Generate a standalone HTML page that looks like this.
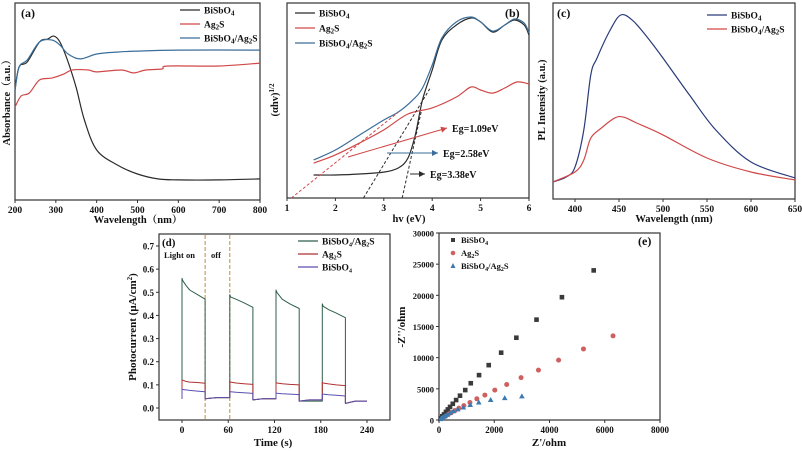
<!DOCTYPE html>
<html><head><meta charset="utf-8"><style>
html,body{margin:0;padding:0;background:#fff;}
svg{display:block;font-family:"Liberation Serif","Noto Serif CJK SC",serif;font-weight:bold;}
</style></head><body>
<svg id="fig" width="802" height="452" viewBox="0 0 802 452" xmlns="http://www.w3.org/2000/svg"></svg>
<script>
// ---- Panel (a) data ----
const aWlBi=[200,210,230,260,280,295,310,330,350,370,400,450,500,550,600,700,800];
const aAbsBi=[0.558,0.675,0.701,0.802,0.817,0.832,0.802,0.701,0.569,0.406,0.254,0.178,0.132,0.107,0.102,0.102,0.107];
const aWlComp=[200,210,230,260,290,310,330,360,400,450,500,600,800];
const aAbsComp=[0.558,0.675,0.711,0.802,0.812,0.787,0.741,0.716,0.741,0.751,0.756,0.761,0.761];
const aWlAg=[200,215,235,260,290,320,340,380,400,460,490,520,560,575,700,800];
const aAbsAg=[0.472,0.528,0.543,0.609,0.619,0.640,0.660,0.660,0.650,0.660,0.645,0.660,0.665,0.680,0.680,0.695];
const aTicks=[200,300,400,500,600,700,800];
// ---- Panel (b) data ----
const bEBi=[1.55,2.0,2.5,3.0,3.3,3.5,3.65,3.8,4.0,4.2,4.5,4.8,5.0,5.25,5.5,5.7,5.9,6.0];
const bVBi=[0.118,0.118,0.123,0.133,0.154,0.205,0.323,0.503,0.656,0.810,0.887,0.923,0.903,0.851,0.887,0.913,0.887,0.836];
const bEComp=[1.55,2.0,2.5,3.0,3.3,3.6,3.8,4.0,4.2,4.5,4.8,5.0,5.25,5.5,5.7,5.9,6.0];
const bVComp=[0.195,0.246,0.323,0.400,0.441,0.503,0.564,0.682,0.821,0.903,0.928,0.903,0.856,0.887,0.918,0.897,0.846];
const bEAg=[1.55,2.0,2.5,3.0,3.5,4.0,4.5,4.8,5.0,5.25,5.5,5.75,6.0];
const bVAg=[0.179,0.221,0.282,0.349,0.431,0.462,0.518,0.569,0.554,0.538,0.564,0.595,0.585];
const bGaps=[1.09,2.58,3.38];
const bGapLabels=["Eg=1.09eV","Eg=2.58eV","Eg=3.38eV"];
const bTicks=[1,2,3,4,5,6];
// ---- Panel (c) data ----
const cWlBi=[375,390,400,410,418,425,440,452,465,480,500,530,560,600,650];
const cIBi=[0.087,0.112,0.163,0.352,0.633,0.719,0.862,0.939,0.913,0.837,0.719,0.531,0.352,0.189,0.107];
const cWlComp=[375,400,410,418,430,445,455,470,500,550,600,650];
const cIComp=[0.087,0.138,0.199,0.311,0.362,0.413,0.418,0.388,0.327,0.209,0.138,0.097];
const cTicks=[400,450,500,550,600,650];
// ---- Panel (d) data ----
const dTime=[0,0,1,5,10,20,30,30,45,60,62,62,63,70,80,92,92,105,120,122,122,123,130,140,152,152,165,180,182,182,183,190,200,212,212,225,240];
const dComp=[0.04,0.56,0.55,0.53,0.51,0.49,0.47,0.04,0.045,0.045,0.045,0.49,0.48,0.47,0.455,0.435,0.035,0.04,0.04,0.04,0.51,0.50,0.47,0.45,0.43,0.03,0.03,0.03,0.03,0.45,0.44,0.425,0.41,0.39,0.02,0.03,0.03];
const dAg=[0.04,0.12,0.12,0.115,0.112,0.11,0.107,0.04,0.045,0.045,0.045,0.115,0.112,0.108,0.105,0.102,0.035,0.04,0.04,0.04,0.11,0.108,0.105,0.102,0.10,0.03,0.035,0.035,0.035,0.11,0.108,0.104,0.10,0.097,0.02,0.03,0.03];
const dBi=[0.04,0.08,0.08,0.078,0.076,0.073,0.07,0.04,0.045,0.045,0.045,0.07,0.07,0.068,0.066,0.063,0.035,0.04,0.04,0.04,0.065,0.064,0.062,0.06,0.058,0.03,0.035,0.035,0.035,0.06,0.06,0.057,0.055,0.052,0.02,0.03,0.03];
const dXTicks=[0,60,120,180,240];
const dYTicks=[0,0.1,0.2,0.3,0.4,0.5,0.6,0.7];
// ---- Panel (e) data ----
const eBiRe=[5600,4450,3530,2800,2250,1800,1450,1150,950,760,620,500,400,320,250,180,120,60];
const eBiIm=[24000,19700,16100,13200,10800,8800,7200,5900,4800,3900,3200,2600,2100,1700,1300,900,600,300];
const eAgRe=[6300,5230,4330,3600,2970,2450,2020,1660,1370,1120,900,720,580,450,340,240,150];
const eAgIm=[13500,11400,9600,8000,6800,5700,4800,4000,3400,2800,2300,1900,1500,1200,900,600,350];
const eCoRe=[3000,2380,1870,1440,1130,880,680,520,400,300,210,130,60];
const eCoIm=[3800,3500,3200,2800,2400,2000,1700,1400,1100,850,600,350,150];
const eXTicks=[0,2000,4000,6000,8000];
const eYTicks=[0,5000,10000,15000,20000,25000,30000];

const svg=document.getElementById('fig');
const NS='http://www.w3.org/2000/svg';
function mk(tag,attrs,parent){const e=document.createElementNS(NS,tag);for(const k in attrs)e.setAttribute(k,attrs[k]);(parent||svg).appendChild(e);return e;}
function lin(d0,d1,r0,r1){return v=>r0+(v-d0)*(r1-r0)/(d1-d0);}
function txt(x,y,s,size,anchor,parent,name,rot){const t=mk('text',{x:x,y:y,'font-size':size,'text-anchor':anchor||'middle',fill:'#111'},parent);t.innerHTML=s;
 
 
 if(rot)t.setAttribute('transform','rotate(-90 '+x+' '+y+')');return t;}
function line(xs,ys,sx,sy,color,parent,name,w,sharp){
 const P=xs.map((x,i)=>[sx(x),sy(ys[i])]);let d;
 if(sharp){d=P.map((p,i)=>(i?'L':'M')+p[0].toFixed(1)+' '+p[1].toFixed(1)).join(' ');}
 else{d='M'+P[0][0].toFixed(1)+' '+P[0][1].toFixed(1);
  for(let i=0;i<P.length-1;i++){const p0=P[Math.max(0,i-1)],p1=P[i],p2=P[i+1],p3=P[Math.min(P.length-1,i+2)];
   const c1=[p1[0]+(p2[0]-p0[0])/6,p1[1]+(p2[1]-p0[1])/6],c2=[p2[0]-(p3[0]-p1[0])/6,p2[1]-(p3[1]-p1[1])/6];
   d+=' C'+c1[0].toFixed(1)+' '+c1[1].toFixed(1)+' '+c2[0].toFixed(1)+' '+c2[1].toFixed(1)+' '+p2[0].toFixed(1)+' '+p2[1].toFixed(1);}}
 const p=mk('path',{d:d,fill:'none',stroke:color,'stroke-width':w||1.2,'stroke-linejoin':'round'},parent);
 
 return p;}
function frame(x0,y0,x1,y1,parent,name){const r=mk('rect',{x:x0,y:y0,width:x1-x0,height:y1-y0,fill:'none',stroke:'#333','stroke-width':1.2},parent);
 
 }
function group(name){const g=mk('g',{});return g;}
function xticks(ticks,sx,yb,parent,fmt,size){ticks.forEach(t=>{mk('line',{x1:sx(t),x2:sx(t),y1:yb,y2:yb+3,stroke:'#333'},parent);
 txt(sx(t),yb+13,fmt?fmt(t):t,size||9.5,'middle',parent,'x-tick-label');});}
function yticks(ticks,sy,xl,parent,fmt,size){ticks.forEach(t=>{mk('line',{x1:xl-3,x2:xl,y1:sy(t),y2:sy(t),stroke:'#333'},parent);
 txt(xl-5,sy(t)+3.5,fmt?fmt(t):t,size||9,'end',parent,'y-tick-label');});}
function legLine(x,y,color,label,parent){mk('line',{x1:x,x2:x+20,y1:y,y2:y,stroke:color,'stroke-width':1.3},parent);
 txt(x+24,y+3.5,label,9.5,'start',parent,'legend-entry');}

const BLK='#2b2b2b',RED='#d04848',BLU='#3a6e9a';
// Panel a
(function(){const g=group('panel-a');const sx=lin(200,800,15,260),sy=lin(0,1,200,3);
 frame(15,3,260,200,g,'plot-frame-a');
 line(aWlBi,aAbsBi,sx,sy,BLK,g,'series-bisbo4');
 line(aWlAg,aAbsAg,sx,sy,RED,g,'series-ag2s');
 line(aWlComp,aAbsComp,sx,sy,BLU,g,'series-composite');
 xticks(aTicks,sx,200,g);
 txt(21,17,'(a)',12,'start',g,'panel-label-a');
 legLine(180,10,BLK,'BiSbO<tspan font-size="7" dy="2">4</tspan>',g);
 legLine(180,24,RED,'Ag<tspan font-size="7" dy="2">2</tspan><tspan dy="-2">S</tspan>',g);
 legLine(180,38,BLU,'BiSbO<tspan font-size="7" dy="2">4</tspan><tspan dy="-2">/Ag</tspan><tspan font-size="7" dy="2">2</tspan><tspan dy="-2">S</tspan>',g);
 txt(138,223,'Wavelength（nm）',10.5,'middle',g,'x-axis-title-a');
 txt(10,100,'Absorbance（a.u.）',10.5,'middle',g,'y-axis-title-a',true);
})();
// Panel b
(function(){const g=group('panel-b');const sx=lin(1,6,287,529),sy=lin(0,1,198,3);
 frame(287,3,529,198,g,'plot-frame-b');
 line(bEBi,bVBi,sx,sy,BLK,g,'series-bisbo4');
 line(bEAg,bVAg,sx,sy,RED,g,'series-ag2s');
 line(bEComp,bVComp,sx,sy,BLU,g,'series-composite');
 const dl=[[bGaps[0],3.3,0.44,RED],[bGaps[1],3.95,0.56,BLK],[bGaps[2],3.78,0.45,BLK]];
 dl.forEach(d=>{const p=mk('line',{x1:sx(d[0]),y1:sy(0),x2:sx(d[1]),y2:sy(d[2]),stroke:d[3],'stroke-width':1,'stroke-dasharray':'3,2'},g);
  
  });
 const ar=[[348,157,447,128,RED],[387,153,438,153,BLU],[410,174,425,174,BLK]];
 ar.forEach((a,i)=>{mk('line',{x1:a[0],y1:a[1],x2:a[2],y2:a[3],stroke:a[4],'stroke-width':1},g);
  const ang=Math.atan2(a[3]-a[1],a[2]-a[0]);const hx=a[2],hy=a[3];
  mk('polygon',{points:hx+','+hy+' '+(hx-6*Math.cos(ang)+3*Math.sin(ang))+','+(hy-6*Math.sin(ang)-3*Math.cos(ang))+' '+(hx-6*Math.cos(ang)-3*Math.sin(ang))+','+(hy-6*Math.sin(ang)+3*Math.cos(ang)),fill:a[4]},g);
  txt(a[2]+5,a[3]+4,bGapLabels[i],10,'start',g,'bandgap-label');});
 xticks(bTicks,sx,198,g);
 txt(505,17,'(b)',12,'start',g,'panel-label-b');
 legLine(295,13,BLK,'BiSbO<tspan font-size="7" dy="2">4</tspan>',g);
 legLine(295,28,RED,'Ag<tspan font-size="7" dy="2">2</tspan><tspan dy="-2">S</tspan>',g);
 legLine(295,43,BLU,'BiSbO<tspan font-size="7" dy="2">4</tspan><tspan dy="-2">/Ag</tspan><tspan font-size="7" dy="2">2</tspan><tspan dy="-2">S</tspan>',g);
 txt(409,222,'hv (eV)',10.5,'middle',g,'x-axis-title-b');
 txt(278,100,'(αhv)<tspan font-size="7" dy="-4">1/2</tspan>',10.5,'middle',g,'y-axis-title-b',true);
})();
// Panel c
(function(){const g=group('panel-c');const sx=lin(375,650,553,795),sy=lin(0,1,199,3);
 frame(553,3,795,199,g,'plot-frame-c');
 line(cWlBi,cIBi,sx,sy,'#2a3a7a',g,'series-bisbo4');
 line(cWlComp,cIComp,sx,sy,RED,g,'series-composite');
 xticks(cTicks,sx,199,g);
 txt(557,17,'(c)',12,'start',g,'panel-label-c');
 legLine(707,15,'#2a3a7a','BiSbO<tspan font-size="7" dy="2">4</tspan>',g);
 legLine(707,29,RED,'BiSbO<tspan font-size="7" dy="2">4</tspan><tspan dy="-2">/Ag</tspan><tspan font-size="7" dy="2">2</tspan><tspan dy="-2">S</tspan>',g);
 txt(674,222,'Wavelength (nm)',10.5,'middle',g,'x-axis-title-c');
 txt(545,100,'PL Intensity (a.u.)',10.5,'middle',g,'y-axis-title-c',true);
})();
// Panel d
(function(){const g=group('panel-d');const sx=lin(0,240,182,367),sy=lin(0,0.7,408,246);
 frame(159,234,390,420,g,'plot-frame-d');
 [30,62].forEach(t=>{mk('line',{x1:sx(t),x2:sx(t),y1:235,y2:419,stroke:'#c98a3a','stroke-width':1,'stroke-dasharray':'4,2'},g);});
 line(dTime,dComp,sx,sy,'#2e5e4a',g,'series-composite',1,true);
 line(dTime,dAg,sx,sy,'#b03030',g,'series-ag2s',1,true);
 line(dTime,dBi,sx,sy,'#5a4fb0',g,'series-bisbo4',1,true);
 xticks(dXTicks,sx,420,g);
 yticks(dYTicks,sy,159,g,v=>v.toFixed(1));
 txt(162,246,'(d)',11,'start',g,'panel-label-d');
 txt(164,258,'Light on',8.5,'start',g,'annotation-light-on');
 txt(211,258,'off',8.5,'start',g,'annotation-off');
 legLine(298,241,'#2e5e4a','BiSbO<tspan font-size="6" dy="2">4</tspan><tspan dy="-2">/Ag</tspan><tspan font-size="6" dy="2">2</tspan><tspan dy="-2">S</tspan>',g);
 legLine(298,254,'#b03030','Ag<tspan font-size="6" dy="2">2</tspan><tspan dy="-2">S</tspan>',g);
 legLine(298,267,'#5a4fb0','BiSbO<tspan font-size="6" dy="2">4</tspan>',g);
 txt(273,446,'Time (s)',11,'middle',g,'x-axis-title-d');
 txt(136,327,'Photocurrent (μA/cm<tspan font-size="7" dy="-4">2</tspan><tspan dy="4">)</tspan>',11,'middle',g,'y-axis-title-d',true);
})();
// Panel e
(function(){const g=group('panel-e');const sx=lin(0,8000,439,660),sy=lin(0,30000,420,233);
 frame(439,233,660,420,g,'plot-frame-e');
 eBiRe.forEach((x,i)=>{const r=mk('rect',{x:sx(x)-2.3,y:sy(eBiIm[i])-2.3,width:4.6,height:4.6,fill:'#3a3a3a'},g);
  
  });
 eAgRe.forEach((x,i)=>{const c=mk('circle',{cx:sx(x),cy:sy(eAgIm[i]),r:2.5,fill:'#d06060'},g);
  
  });
 eCoRe.forEach((x,i)=>{const X=sx(x),Y=sy(eCoIm[i]);const p=mk('polygon',{points:X+','+(Y-3)+' '+(X-2.8)+','+(Y+2)+' '+(X+2.8)+','+(Y+2),fill:'#3a7ab0'},g);
  
  });
 xticks(eXTicks,sx,420,g,null,9);
 yticks(eYTicks,sy,439,g,null,8.5);
 txt(638,245,'(e)',12,'start',g,'panel-label-e');
 mk('rect',{x:451,y:238,width:4,height:4,fill:'#3a3a3a'},g);
 txt(461,243,'BiSbO<tspan font-size="6" dy="2">4</tspan>',8.5,'start',g,'legend-entry');
 mk('circle',{cx:453,cy:253,r:2.3,fill:'#d06060'},g);
 txt(461,256,'Ag<tspan font-size="6" dy="2">2</tspan><tspan dy="-2">S</tspan>',8.5,'start',g,'legend-entry');
 mk('polygon',{points:'453,263 450.5,268 455.5,268',fill:'#3a7ab0'},g);
 txt(461,269,'BiSbO<tspan font-size="6" dy="2">4</tspan><tspan dy="-2">/Ag</tspan><tspan font-size="6" dy="2">2</tspan><tspan dy="-2">S</tspan>',8.5,'start',g,'legend-entry');
 txt(549,446,"Z'/ohm",11,'middle',g,'x-axis-title-e');
 txt(405,327,"-Z''/ohm",11,'middle',g,'y-axis-title-e',true);
})();
</script>
</body></html>
